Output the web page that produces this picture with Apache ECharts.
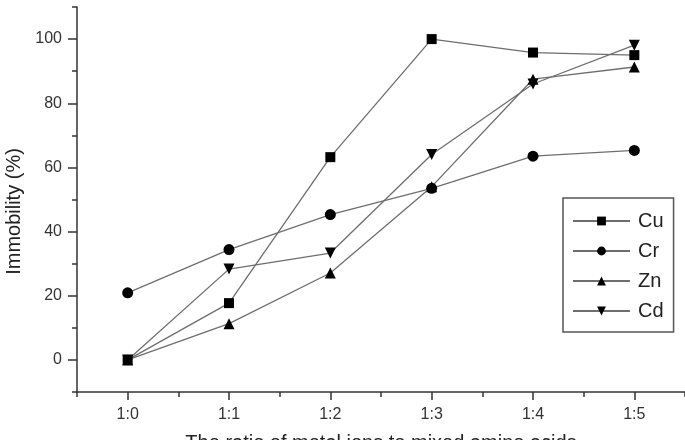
<!DOCTYPE html>
<html>
<head>
<meta charset="utf-8">
<script src="https://cdn.jsdelivr.net/npm/echarts@6/dist/echarts.min.js"></script>
<style>
  html, body { margin: 0; padding: 0; background: #fff; }
  #chart { width: 685px; height: 440px; }
</style>
</head>
<body>
<div id="chart"></div>
<script>
// ratio categories along the x axis
const ratios = ['1:0', '1:1', '1:2', '1:3', '1:4', '1:5']

// immobility (%)
const cu = [0, 17.7, 63.2, 100, 95.8, 95]
const cr = [20.9, 34.4, 45.3, 53.5, 63.5, 65.3]
const zn = [0, 11.3, 27.1, 54, 87.5, 91.3]
const cd = [0, 28.3, 33.3, 64, 86, 98.1]

// y ticks: labelled (long) and in-between (short)
const yMajor = [0, 20, 40, 60, 80, 100]
const yMinor = [-10, 10, 30, 50, 70, 90, 110]

const font = 'Liberation Sans, Arial, sans-serif'
const axisColor = '#333'
const lineColor = '#6e6e6e'

function makeSeries (name, data, symbol, size, rotate) {
    return {
        name: name,
        type: 'line',
        data: data,
        symbol: symbol,
        symbolSize: size,
        symbolRotate: rotate || 0,
        lineStyle: { color: lineColor, width: 1.3 },
        itemStyle: { color: '#000' },
        emphasis: { disabled: true },
        animation: false
    }
}

let chart = echarts.init(document.getElementById('chart'))
let option = {
    grid: { left: 77, right: 0, top: 7, bottom: 48, outerBoundsMode: 'none', containLabel: false },
    legend: {
        orient: 'vertical',
        left: 563,
        top: 198,
        padding: [13, 10, 11, 9],
        itemGap: 10,
        itemWidth: 57,
        itemHeight: 11,
        borderColor: '#555',
        borderWidth: 1.5,
        textStyle: { fontFamily: font, fontSize: 20, color: '#222', padding: [0, 0, 0, 3] },
        data: ['Cu', 'Cr', 'Zn', 'Cd']
    },
    xAxis: [
        {
            type: 'category',
            data: ratios,
            position: 'bottom',
            name: 'The ratio of metal ions to mixed amino acids',
            nameLocation: 'middle',
            nameGap: 41,
            nameTextStyle: { fontFamily: font, fontSize: 20, color: '#222' },
            axisLine: { onZero: false, lineStyle: { color: axisColor, width: 1.5 } },
            axisTick: { show: true, alignWithLabel: true, length: 8, lineStyle: { color: axisColor, width: 1.5 } },
            axisLabel: { fontFamily: font, fontSize: 16, color: '#333', margin: 15 },
            splitLine: { show: false }
        },
        {
            // short ticks between the categories
            type: 'category',
            data: ratios,
            position: 'bottom',
            axisLine: { show: false, onZero: false },
            axisTick: { show: true, length: 5, lineStyle: { color: axisColor, width: 1.5 } },
            axisLabel: { show: false },
            splitLine: { show: false }
        }
    ],
    yAxis: [
        {
            type: 'value',
            min: -10,
            max: 110,
            position: 'left',
            name: 'Immobility (%)',
            nameLocation: 'middle',
            nameGap: 50,
            nameTextStyle: { fontFamily: font, fontSize: 20, color: '#222', padding: [0, 24, 0, 0] },
            axisLine: { show: true, lineStyle: { color: axisColor, width: 1.5 } },
            axisTick: { show: true, customValues: yMajor, length: 9, lineStyle: { color: axisColor, width: 1.5 } },
            axisLabel: { customValues: yMajor, fontFamily: font, fontSize: 16, color: '#333', margin: 15 },
            splitLine: { show: false }
        },
        {
            type: 'value',
            min: -10,
            max: 110,
            position: 'left',
            axisLine: { show: false },
            axisTick: { show: true, customValues: yMinor, length: 5, lineStyle: { color: axisColor, width: 1.5 } },
            axisLabel: { show: false },
            splitLine: { show: false }
        }
    ],
    series: [
        makeSeries('Cu', cu, 'rect', 10),
        makeSeries('Cr', cr, 'circle', 11),
        makeSeries('Zn', zn, 'triangle', 11),
        makeSeries('Cd', cd, 'triangle', 11, 180)
    ]
}
chart.setOption(option)
</script>
</body>
</html>
